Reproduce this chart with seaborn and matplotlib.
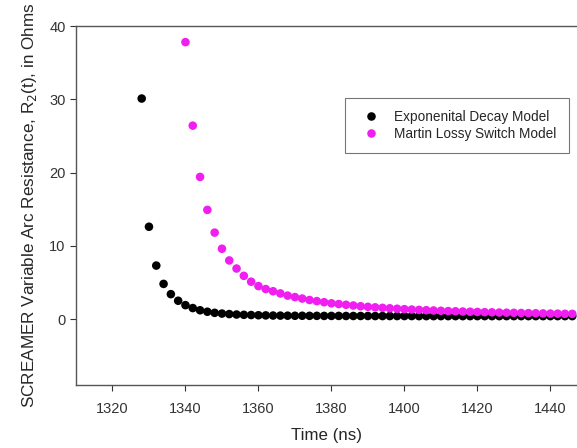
import numpy as np
import pandas as pd
import matplotlib
matplotlib.use('Agg')
import matplotlib.pyplot as plt
import seaborn as sns

# time in ns, every 2 ns
time_exp = list(range(1328, 1448, 2))
r_exp = [30.1, 12.6, 7.3, 4.8, 3.4, 2.5, 1.9, 1.5, 1.2, 1.0,
         0.85, 0.75, 0.68, 0.62, 0.58, 0.55, 0.52, 0.5, 0.48, 0.47,
         0.46, 0.45, 0.45, 0.44, 0.44, 0.43, 0.43, 0.43, 0.42, 0.42,
         0.42, 0.42, 0.41, 0.41, 0.41, 0.41, 0.41, 0.41, 0.4, 0.4,
         0.4, 0.4, 0.4, 0.4, 0.4, 0.4, 0.4, 0.4, 0.4, 0.4,
         0.4, 0.4, 0.4, 0.4, 0.4, 0.4, 0.4, 0.4, 0.4, 0.4]

time_martin = list(range(1340, 1448, 2))
r_martin = [37.8, 26.4, 19.4, 14.9, 11.8, 9.6, 8.0, 6.9, 5.9, 5.1,
            4.5, 4.1, 3.8, 3.5, 3.2, 3.0, 2.8, 2.6, 2.45, 2.3,
            2.15, 2.05, 1.95, 1.85, 1.75, 1.67, 1.6, 1.53, 1.47, 1.41,
            1.35, 1.3, 1.25, 1.21, 1.17, 1.13, 1.09, 1.06, 1.03, 1.0,
            0.97, 0.94, 0.92, 0.89, 0.87, 0.85, 0.83, 0.81, 0.79, 0.77,
            0.75, 0.74, 0.72, 0.71]

labels = ['Exponenital Decay Model', 'Martin Lossy Switch Model']
colors = ['#000000', '#f01ef0']

df = pd.concat([
    pd.DataFrame({'time': time_exp, 'r': r_exp, 'model': labels[0]}),
    pd.DataFrame({'time': time_martin, 'r': r_martin, 'model': labels[1]}),
])

sns.set_style('ticks')
plt.rcParams['font.family'] = ['Liberation Sans', 'DejaVu Sans']

fig = plt.figure(figsize=(5.77, 4.48), dpi=100)
ax = fig.add_axes([76 / 577, 1 - 385 / 448, 1 - 76 / 577, (385 - 26) / 448])

sns.scatterplot(data=df, x='time', y='r', hue='model', palette=dict(zip(labels, colors)),
                s=38, linewidth=0, ax=ax)

ax.set_xlim(1310, 1447.3)
ax.set_ylim(-9, 40)
ax.set_xticks(range(1320, 1441, 20))
ax.set_yticks(range(0, 41, 10))
ax.tick_params(labelsize=10.5, colors='#333333', length=4, width=0.8)
ax.tick_params(axis='x', pad=8)
ax.spines['right'].set_visible(False)
for s in ['left', 'bottom', 'top']:
    ax.spines[s].set_color('#555555')
    ax.spines[s].set_linewidth(1.0)

ax.set_xlabel('Time (ns)', fontsize=12.2, labelpad=9)
ax.set_ylabel('SCREAMER Variable Arc Resistance, R$_2$(t), in Ohms', fontsize=12.3, labelpad=7)

leg = ax.legend(loc='upper left', bbox_to_anchor=(0.537, 0.80), borderaxespad=0,
                fancybox=False, frameon=True, fontsize=9.8, markerscale=1.0,
                handletextpad=0.7, borderpad=0.9, labelspacing=0.2)
leg.get_frame().set_edgecolor('#555555')
leg.get_frame().set_linewidth(0.8)

fig.savefig('out.png', dpi=100)
